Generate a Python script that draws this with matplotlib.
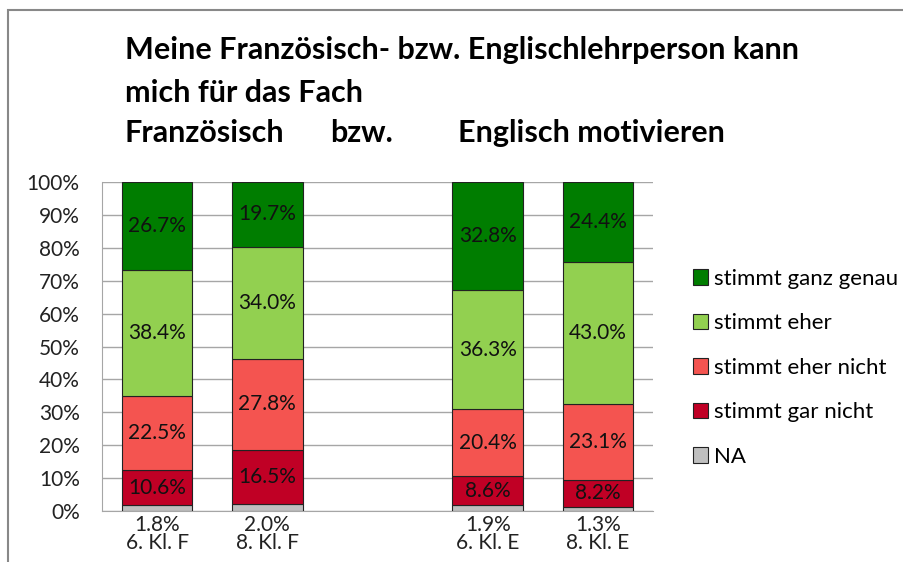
import numpy as np
import matplotlib.pyplot as plt
from matplotlib.patches import Rectangle

# Daten
klassen = ['6. Kl. F', '8. Kl. F', '', '6. Kl. E', '8. Kl. E']
kategorien = ['NA', 'stimmt gar nicht', 'stimmt eher nicht', 'stimmt eher', 'stimmt ganz genau']
na = [1.8, 2.0, 0, 1.9, 1.3]
gar_nicht = [10.6, 16.5, 0, 8.6, 8.2]
eher_nicht = [22.5, 27.8, 0, 20.4, 23.1]
eher = [38.4, 34.0, 0, 36.3, 43.0]
ganz_genau = [26.7, 19.7, 0, 32.8, 24.4]
farben = ['#BFBFBF', '#C00025', '#F45450', '#92D050', '#007D00']

plt.rcParams['font.family'] = ['Lato', 'DejaVu Sans']

fig = plt.figure(figsize=(9.04, 5.62), dpi=100)
ax = fig.add_axes([0.1128, 0.0907, 0.6095, 0.5855])

x = np.arange(len(klassen))
belegt = np.array([k != '' for k in klassen])  # leere Lücke in der Mitte
werte = [na, gar_nicht, eher_nicht, eher, ganz_genau]
unten = np.zeros(len(klassen))
handles = []
for i, (w, f, k) in enumerate(zip(werte, farben, kategorien)):
    w = np.array(w)
    b = ax.bar(x[belegt], w[belegt], 0.64, bottom=unten[belegt], color=f, edgecolor='#222222',
               linewidth=0.8, label=k, zorder=3)
    handles.append(b)
    if i > 0:
        for xi, wi, ui in zip(x[belegt], w[belegt], unten[belegt]):
            ax.text(xi, ui + wi / 2, f'{wi:.1f}%', ha='center', va='center', fontsize=15,
                    color='#111111', zorder=4)
    unten += w

# NA-Werte als Teil der Achsenbeschriftung
ticklabels = [f'{n:.1f}%\n{k}' if k else '' for n, k in zip(na, klassen)]
ax.set_xticks(x)
ax.set_xticklabels(ticklabels, fontsize=15, linespacing=0.85, color='#222222')
ax.tick_params(axis='x', length=0, pad=3)

ax.set_xlim(-0.5, 4.5)
ax.set_ylim(0, 100)
ax.set_yticks(np.arange(0, 101, 10))
ax.set_yticklabels([f'{v}%' for v in range(0, 101, 10)], fontsize=15, color='#222222')
ax.tick_params(axis='y', length=0, pad=16)
ax.yaxis.grid(True, color='#A6A6A6', linewidth=1, zorder=0)
for s in ['top', 'right']:
    ax.spines[s].set_visible(False)
ax.spines['left'].set_color('#A6A6A6')
ax.spines['bottom'].set_color('#A6A6A6')

# Titel
tkw = dict(fontsize=22, fontweight='bold', color='black', va='center', ha='left')
fig.text(125 / 904, 1 - 50 / 562, 'Meine Französisch- bzw. Englischlehrperson kann', **tkw)
fig.text(125 / 904, 1 - 93 / 562, 'mich für das Fach', **tkw)
fig.text(125 / 904, 1 - 133 / 562, 'Französisch', **tkw)
fig.text(330 / 904, 1 - 133 / 562, 'bzw.', **tkw)
fig.text(458 / 904, 1 - 133 / 562, 'Englisch motivieren', **tkw)

# Legende
fig.legend(handles[::-1], kategorien[::-1], loc='upper left', bbox_to_anchor=(684 / 904, 1 - 260 / 562),
           frameon=False, fontsize=16, handlelength=0.7, handleheight=0.7, handletextpad=0.25,
           labelspacing=1.1, borderaxespad=0)

# Rahmen
fig.patches.append(Rectangle((8 / 904, -0.1), 1.2, 1 - 10 / 562 + 0.1, transform=fig.transFigure,
                             fill=False, edgecolor='#888888', linewidth=1.5))

fig.savefig('out.png', dpi=100)
